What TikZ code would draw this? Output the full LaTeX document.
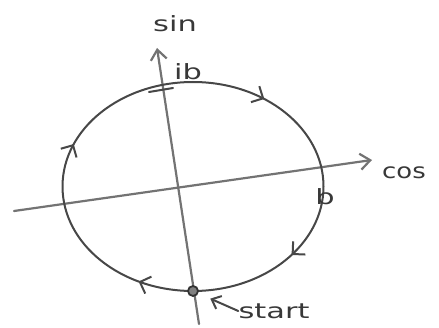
\documentclass[tikz,border=0pt]{standalone}
\usepackage{fontspec}
\setmainfont{DejaVu Sans}
\usetikzlibrary{arrows.meta,decorations.markings,positioning}

\begin{document}
\begin{tikzpicture}[
  x=1pt,y=1pt,
  pencil/.style={draw=black!72,line width=2pt,line cap=round},
  axis/.style={pencil,draw=black!55,line width=2.2pt,-{Straight Barb[length=10pt,width=16pt]}},
  barb/.style={-{Straight Barb[length=8pt,width=14pt]}},
  lbl/.style={font=\fontsize{21}{23}\selectfont,text=black!78,inner sep=0pt,xscale=1.45,transform shape},
  orbit/.style={pencil,postaction={decorate},decoration={markings,
    mark=at position 0.075 with {\arrow{Straight Barb[length=9pt,width=18pt]}},
    mark=at position 0.31 with {\arrow{Straight Barb[length=9pt,width=18pt]}},
    mark=at position 0.60 with {\arrow{Straight Barb[length=9pt,width=18pt]}},
    mark=at position 0.855 with {\arrow{Straight Barb[length=9pt,width=18pt]}}}},
  dot/.style={circle,draw=black!80,fill=black!50,line width=1.8pt,minimum size=10pt,inner sep=0pt}
]
\useasboundingbox (0,0) rectangle (439,327);
% axes
\coordinate (xl) at (14,116);
\coordinate (xr) at (372,167);
\coordinate (yb) at (199,3);
\coordinate (yt) at (157,279);
\draw[axis] (xl) -- (xr);
\draw[axis] (yb) -- (yt);
% the orbit, clockwise from the bottom
\draw[orbit] (193,36) arc[start angle=-90,end angle=-450,x radius=130.5,y radius=104.5];
\draw[pencil] (149,235) -- (173,239);
\node[dot] (st) at (193,36) {};
% labels
\node[lbl] (sin) at (175,303) {sin};
\node[lbl] (ib) at (188,255) {ib};
\node[lbl,xscale=0.85] (cos) at (404,154) {cos};
\node[lbl] (b) at (325,130) {b};
\node[lbl] (start) at (274,16) {start};
\draw[pencil,barb,shorten >=13pt] (start.west) -- (st);
\end{tikzpicture}
\end{document}
